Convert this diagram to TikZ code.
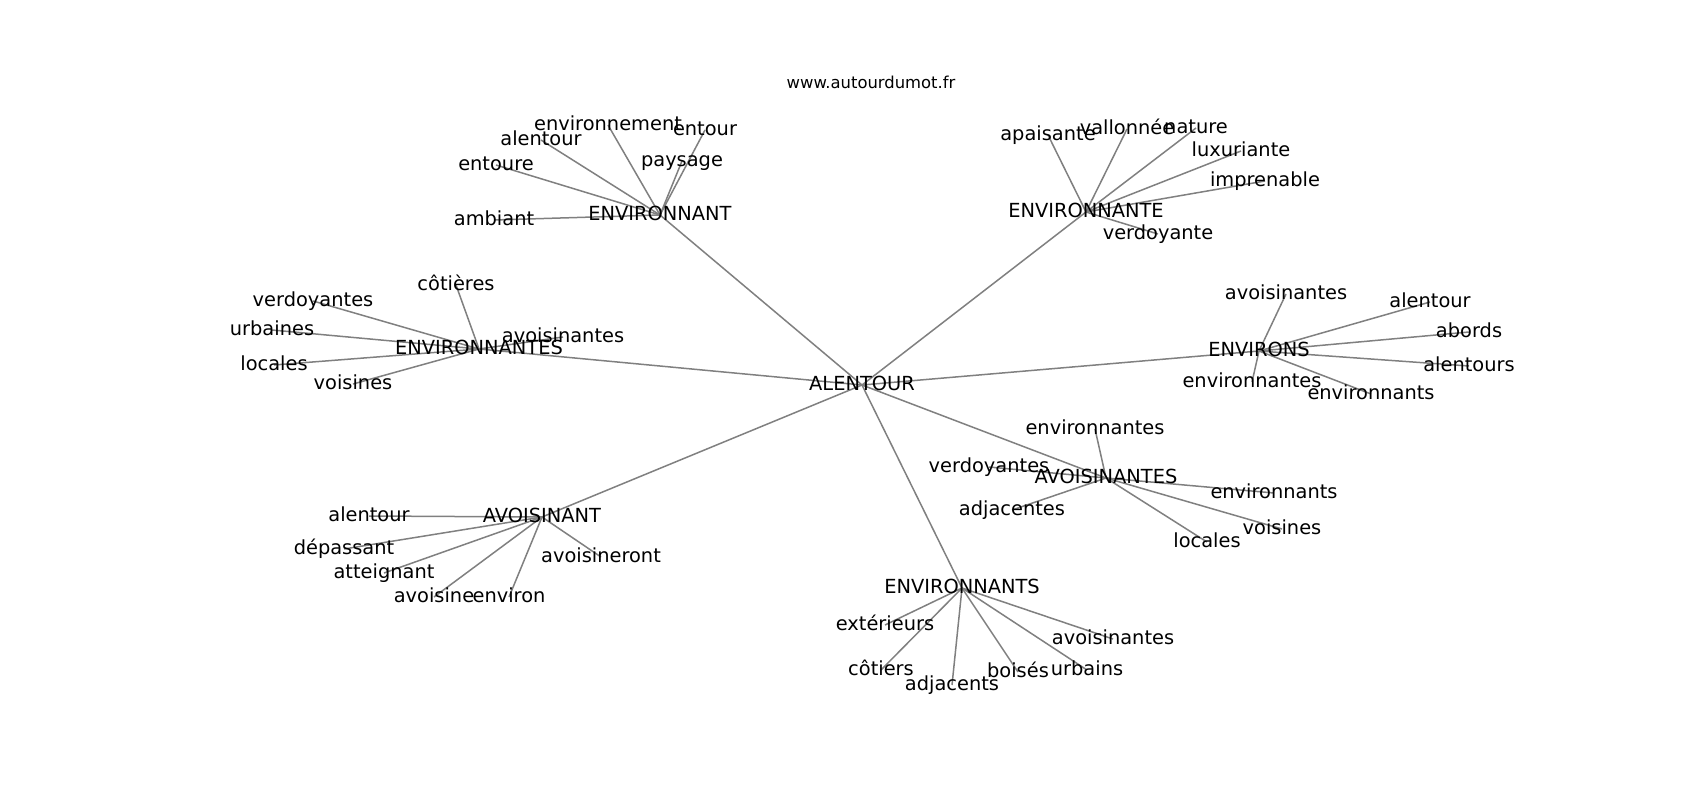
\documentclass[tikz,border=0pt]{standalone}
\usepackage{fontspec}
\setmainfont{DejaVu Sans}
\pgfdeclarelayer{back}
\pgfdeclarelayer{bg}
\pgfsetlayers{back,bg,main}
\begin{document}
\begin{tikzpicture}[x=1pt,y=-1pt,
  lbl/.style={font=\fontsize{19.4}{23}\selectfont, inner sep=0pt, text height=14.7pt, text depth=4.5pt, text=black},
  ttl/.style={font=\fontsize{16.4}{19}\selectfont, inner sep=0pt, text height=12.4pt, text depth=3.8pt, text=black},
  edge/.style={draw=black!50, line width=1.5pt}]
\begin{pgfonlayer}{back}
\fill[white] (0,-2) rectangle (1700,798);
\end{pgfonlayer}
\useasboundingbox (0,-2) rectangle (1700,798);
\node[ttl] (title) at (871,82) {www.autourdumot.fr};
% hubs
\node[lbl] (c)  at (862,383) {ALENTOUR};
\node[lbl] (h1) at (660,213) {ENVIRONNANT};
\node[lbl] (h2) at (1086,210) {ENVIRONNANTE};
\node[lbl] (h3) at (479,347) {ENVIRONNANTES};
\node[lbl] (h4) at (1259,349) {ENVIRONS};
\node[lbl] (h5) at (1106,476) {AVOISINANTES};
\node[lbl] (h6) at (542,515) {AVOISINANT};
\node[lbl] (h7) at (962,586) {ENVIRONNANTS};
% h1 leaves
\node[lbl] (a1) at (608,123) {environnement};
\node[lbl] (a2) at (541,138) {alentour};
\node[lbl] (a3) at (705,128) {entour};
\node[lbl] (a4) at (682,159) {paysage};
\node[lbl] (a5) at (496,163) {entoure};
\node[lbl] (a6) at (494,218) {ambiant};
% h2 leaves
\node[lbl] (b1) at (1048,133) {apaisante};
\node[lbl] (b2) at (1127,127) {vallonnée};
\node[lbl] (b3) at (1196,126) {nature};
\node[lbl] (b4) at (1241,149) {luxuriante};
\node[lbl] (b5) at (1265,179) {imprenable};
\node[lbl] (b6) at (1158,232) {verdoyante};
% h3 leaves
\node[lbl] (d1) at (456,283) {côtières};
\node[lbl] (d2) at (313,299) {verdoyantes};
\node[lbl] (d3) at (272,328) {urbaines};
\node[lbl] (d4) at (274,363) {locales};
\node[lbl] (d5) at (353,382) {voisines};
\node[lbl] (d6) at (563,335) {avoisinantes};
% h4 leaves
\node[lbl] (e1) at (1286,292) {avoisinantes};
\node[lbl] (e2) at (1430,300) {alentour};
\node[lbl] (e3) at (1469,330) {abords};
\node[lbl] (e4) at (1469,364) {alentours};
\node[lbl] (e5) at (1371,392) {environnants};
\node[lbl] (e6) at (1252,380) {environnantes};
% h5 leaves
\node[lbl] (f1) at (1095,427) {environnantes};
\node[lbl] (f2) at (989,465) {verdoyantes};
\node[lbl] (f3) at (1274,491) {environnants};
\node[lbl] (f4) at (1012,508) {adjacentes};
\node[lbl] (f5) at (1282,527) {voisines};
\node[lbl] (f6) at (1207,540) {locales};
% h6 leaves
\node[lbl] (g1) at (369,514) {alentour};
\node[lbl] (g2) at (344,547) {dépassant};
\node[lbl] (g3) at (384,571) {atteignant};
\node[lbl] (g4) at (434,595) {avoisine};
\node[lbl] (g5) at (509,595) {environ};
\node[lbl] (g6) at (601,555) {avoisineront};
% h7 leaves
\node[lbl] (k1) at (885,623) {extérieurs};
\node[lbl] (k2) at (881,668) {côtiers};
\node[lbl] (k3) at (952,683) {adjacents};
\node[lbl] (k4) at (1018,670) {boisés};
\node[lbl] (k5) at (1087,668) {urbains};
\node[lbl] (k6) at (1113,637) {avoisinantes};
\begin{pgfonlayer}{bg}
\foreach \h in {h1,h2,h3,h4,h5,h6,h7} \draw[edge] (c.center) -- (\h.center);
\foreach \l in {a1,a2,a3,a4,a5,a6} \draw[edge] (h1.center) -- (\l.center);
\foreach \l in {b1,b2,b3,b4,b5,b6} \draw[edge] (h2.center) -- (\l.center);
\foreach \l in {d1,d2,d3,d4,d5,d6} \draw[edge] (h3.center) -- (\l.center);
\foreach \l in {e1,e2,e3,e4,e5,e6} \draw[edge] (h4.center) -- (\l.center);
\foreach \l in {f1,f2,f3,f4,f5,f6} \draw[edge] (h5.center) -- (\l.center);
\foreach \l in {g1,g2,g3,g4,g5,g6} \draw[edge] (h6.center) -- (\l.center);
\foreach \l in {k1,k2,k3,k4,k5,k6} \draw[edge] (h7.center) -- (\l.center);
\end{pgfonlayer}
\end{tikzpicture}
\end{document}
